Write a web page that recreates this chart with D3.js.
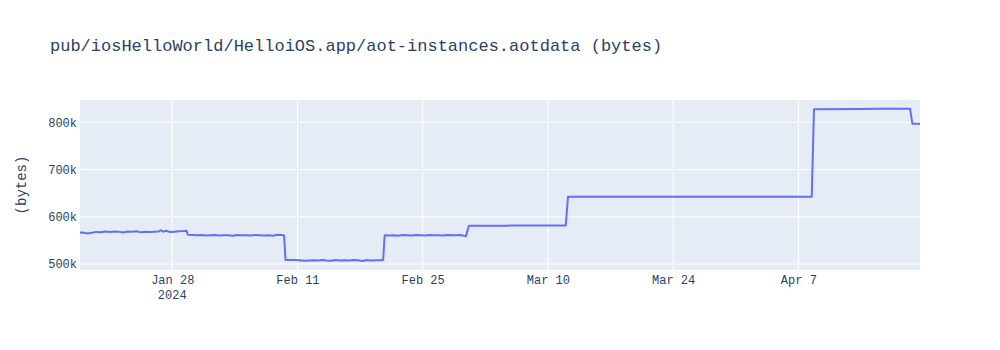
<!DOCTYPE html>
<html>
<head>
<meta charset="utf-8">
<script src="https://cdn.jsdelivr.net/npm/d3@7"></script>
<style>
  html, body { margin: 0; padding: 0; background: #fff; }
  svg { display: block; }
  text { font-family: "Liberation Mono", "Courier New", monospace; }
</style>
</head>
<body>
<svg id="chart" width="1000" height="350"></svg>
<script>
// ---- data ----
const titleText = "pub/iosHelloWorld/HelloiOS.app/aot-instances.aotdata (bytes)";
const yAxisTitle = "(bytes)";

const dates = [
  "2024-01-17T16:30","2024-01-18T00:00","2024-01-18T12:00","2024-01-19T00:00","2024-01-19T12:00",
  "2024-01-20T00:00","2024-01-20T12:00","2024-01-21T00:00","2024-01-21T12:00","2024-01-22T00:00",
  "2024-01-22T12:00","2024-01-23T00:00","2024-01-23T12:00","2024-01-24T00:00","2024-01-24T12:00",
  "2024-01-25T00:00","2024-01-25T12:00","2024-01-26T00:00","2024-01-26T12:00","2024-01-26T18:00",
  "2024-01-27T00:00","2024-01-27T08:00","2024-01-27T18:00","2024-01-28T06:00","2024-01-28T18:00",
  "2024-01-29T06:00","2024-01-29T14:00","2024-01-29T18:00","2024-01-30T06:00","2024-01-30T18:00",
  "2024-01-31T06:00","2024-01-31T18:00","2024-02-01T06:00","2024-02-01T18:00","2024-02-02T06:00",
  "2024-02-02T18:00","2024-02-03T06:00","2024-02-03T18:00","2024-02-04T06:00","2024-02-04T18:00",
  "2024-02-05T06:00","2024-02-05T18:00","2024-02-06T06:00","2024-02-06T18:00","2024-02-07T06:00",
  "2024-02-07T18:00","2024-02-08T06:00","2024-02-08T18:00","2024-02-09T06:00","2024-02-09T12:00",
  "2024-02-09T16:00","2024-02-10T06:00","2024-02-10T18:00","2024-02-11T06:00","2024-02-11T18:00",
  "2024-02-12T06:00","2024-02-12T18:00","2024-02-13T06:00","2024-02-13T18:00","2024-02-14T06:00",
  "2024-02-14T18:00","2024-02-15T06:00","2024-02-15T18:00","2024-02-16T06:00","2024-02-16T18:00",
  "2024-02-17T06:00","2024-02-17T18:00","2024-02-18T06:00","2024-02-18T18:00","2024-02-19T06:00",
  "2024-02-19T18:00","2024-02-20T06:00","2024-02-20T14:00","2024-02-20T18:00","2024-02-21T06:00",
  "2024-02-21T18:00","2024-02-22T06:00","2024-02-22T18:00","2024-02-23T06:00","2024-02-23T18:00",
  "2024-02-24T06:00","2024-02-24T18:00","2024-02-25T06:00","2024-02-25T18:00","2024-02-26T06:00",
  "2024-02-26T18:00","2024-02-27T06:00","2024-02-27T18:00","2024-02-28T06:00","2024-02-28T18:00",
  "2024-02-29T06:00","2024-02-29T14:00","2024-02-29T20:00","2024-03-01T04:00","2024-03-05T12:00",
  "2024-03-05T18:00","2024-03-12T00:00","2024-03-12T06:00","2024-04-08T12:00","2024-04-08T18:00",
  "2024-04-14T00:00","2024-04-16T00:00","2024-04-19T12:00","2024-04-19T18:00","2024-04-20T14:30"
];
const sizesK = [
  566, 566.5, 564.5, 566, 568,
  567, 569, 568, 569, 568.5,
  566.5, 569, 568.5, 569.5, 567,
  568.5, 568, 568.5, 569, 571.5,
  568.5, 570.5, 567.5, 568.5, 569.5,
  570, 570.5, 562, 561.5, 561,
  561.5, 560.5, 561, 561.5, 560.5,
  561, 561, 560, 561.5, 561,
  561, 560.5, 561.5, 561, 560.5,
  561, 560, 562, 561.5, 560.5,
  508.5, 508.5, 508.5, 508, 507,
  507.5, 508, 507.5, 508.5, 507.5,
  507, 508.5, 507.5, 508, 507.5,
  508.5, 508, 506.5, 508.5, 507.5,
  508, 508, 508.5, 561, 560.5,
  561, 560, 561.5, 561, 560.5,
  561.5, 561, 560.5, 561.5, 561,
  561, 560.5, 561.5, 561, 561,
  561.5, 560, 559, 581, 581,
  581.5, 581.5, 642.6, 642.6, 827.5,
  828, 828.5, 828.5, 797, 797
];
const yTickValues = [500000, 600000, 700000, 800000];
const xTickDates = ["2024-01-28","2024-02-11","2024-02-25","2024-03-10","2024-03-24","2024-04-07"];
const xTickLabels = ["Jan 28","Feb 11","Feb 25","Mar 10","Mar 24","Apr 7"];
const yearLabel = "2024";

// ---- layout ----
const W = 1000, H = 350;
const margin = {left: 80, right: 80, top: 100, bottom: 80};
const pw = W - margin.left - margin.right;
const ph = H - margin.top - margin.bottom;

const parse = d3.timeParse("%Y-%m-%dT%H:%M");
const parseDay = d3.timeParse("%Y-%m-%d");
const data = dates.map((d, i) => ({t: parse(d), v: sizesK[i] * 1000}));

const x = d3.scaleTime().domain(d3.extent(data, d => d.t)).range([0, pw]);
const y = d3.scaleLinear().domain([487300, 847200]).range([ph, 0]);

const svg = d3.select("#chart");
svg.append("rect").attr("width", W).attr("height", H).attr("fill", "#fff");

svg.append("text")
  .attr("x", 50).attr("y", 51)
  .attr("font-size", 17).attr("fill", "#2a3f5f")
  .text(titleText);

const g = svg.append("g").attr("transform", `translate(${margin.left},${margin.top})`);
g.append("rect").attr("width", pw).attr("height", ph).attr("fill", "#E5ECF6");

// grid
const xTicks = xTickDates.map(parseDay);
g.selectAll(".xg").data(xTicks).enter().append("line")
  .attr("x1", d => x(d)).attr("x2", d => x(d))
  .attr("y1", 0).attr("y2", ph)
  .attr("stroke", "#fff").attr("stroke-width", 1);
g.selectAll(".yg").data(yTickValues).enter().append("line")
  .attr("x1", 0).attr("x2", pw)
  .attr("y1", d => y(d)).attr("y2", d => y(d))
  .attr("stroke", "#fff").attr("stroke-width", 1);

// axes
const yAxis = d3.axisLeft(y).tickValues(yTickValues)
  .tickFormat(d => d3.format("d")(d / 1000) + "k").tickSize(0).tickPadding(3);
const yg = g.append("g").call(yAxis);
yg.select(".domain").remove();
yg.selectAll("text").attr("font-size", 12).attr("fill", "#2a3f5f")
  .attr("font-family", "Liberation Mono, Courier New, monospace");

const xAxis = d3.axisBottom(x).tickValues(xTicks)
  .tickFormat((d, i) => xTickLabels[i]).tickSize(0).tickPadding(5);
const xg = g.append("g").attr("transform", `translate(0,${ph})`).call(xAxis);
xg.select(".domain").remove();
xg.selectAll("text").attr("font-size", 12).attr("fill", "#2a3f5f")
  .attr("font-family", "Liberation Mono, Courier New, monospace");

g.append("text")
  .attr("x", x(xTicks[0])).attr("y", ph + 29)
  .attr("text-anchor", "middle").attr("font-size", 12).attr("fill", "#2a3f5f")
  .text(yearLabel);

svg.append("text")
  .attr("transform", `translate(26,${margin.top + ph / 2}) rotate(-90)`)
  .attr("text-anchor", "middle").attr("font-size", 14).attr("fill", "#2a3f5f")
  .text(yAxisTitle);

// line
const line = d3.line().x(d => x(d.t)).y(d => y(d.v));
g.append("path").datum(data)
  .attr("d", line).attr("fill", "none")
  .attr("stroke", "#636efa").attr("stroke-width", 2)
  .attr("stroke-linejoin", "round");
</script>
</body>
</html>
